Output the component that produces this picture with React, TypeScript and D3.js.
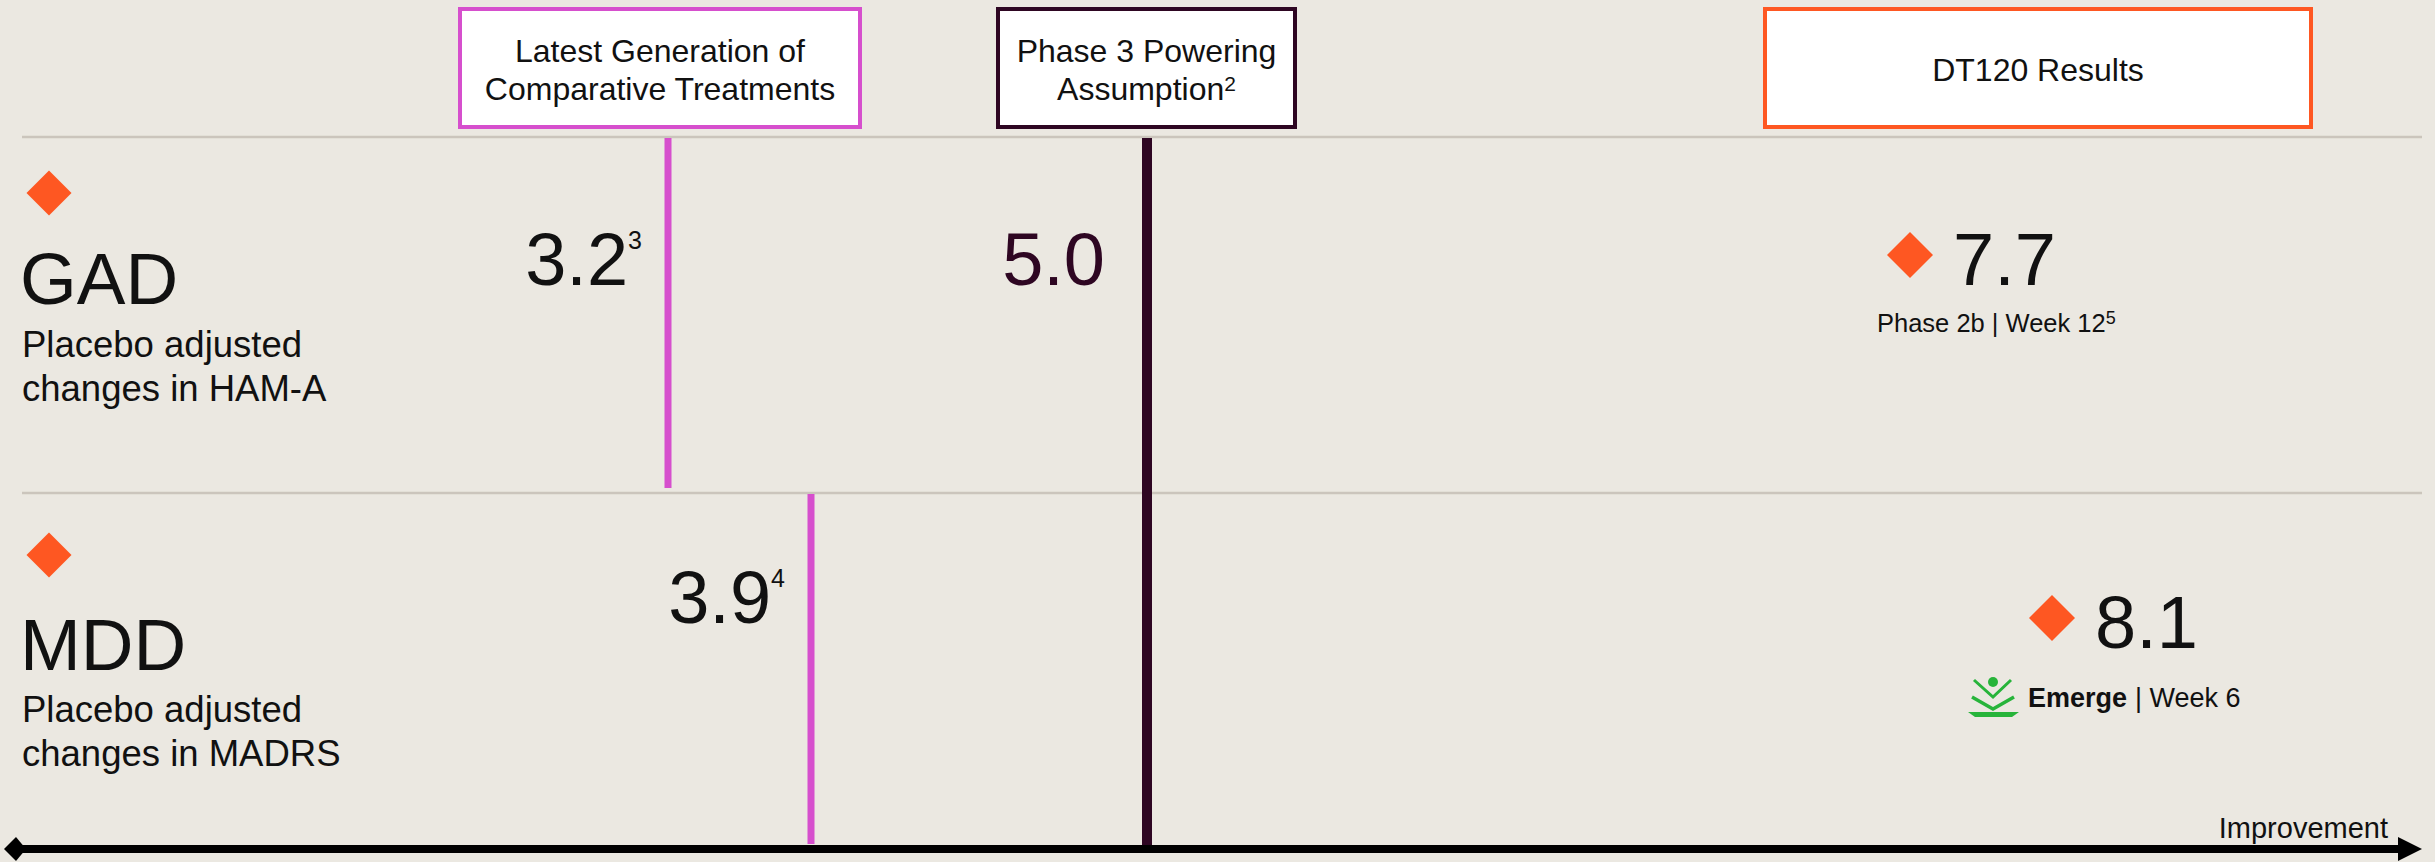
import React from "react";
import * as d3 from "d3";

// ---------- data ----------
const rows = ["GAD", "MDD"];
const rowSubtitles = [
  ["Placebo adjusted", "changes in HAM-A"],
  ["Placebo adjusted", "changes in MADRS"],
];
const comparatorValues = [3.2, 3.9];
const comparatorRefs = ["3", "4"];
const poweringValue = 5.0;
const poweringRef = "2";
const dt120Values = [7.7, 8.1];
const dt120Notes = ["Phase 2b | Week 12", "| Week 6"];
const dt120NoteRefs = ["5", ""];
const headerLines = [
  ["Latest Generation of", "Comparative Treatments"],
  ["Phase 3 Powering", "Assumption"],
  ["DT120 Results"],
];
const axisLabel = "Improvement";

// ---------- style ----------
const W = 2435;
const H = 862;
const BG = "#ebe8e1";
const PINK = "#d64fcd";
const DARK = "#2e0622";
const ORANGE = "#fe5722";
const SEP = "#cbc5bc";
const GREEN = "#27b43a";
const INK = "#111111";
const FONT = "'Liberation Sans', Arial, Helvetica, sans-serif";

// non-linear value axis of the original slide (piecewise linear)
const x = d3
  .scaleLinear()
  .domain([3.2, 3.9, 5.0, 7.7, 8.1])
  .range([668, 811, 1147, 1910, 2052]);

const y = d3.scaleBand<string>().domain(rows).range([137, 849]).paddingInner(0);

// per-row vertical offsets inside each band
const OFF = {
  diamond: [56, 62],
  title: [167, 177],
  sub1: [220, 229],
  sub2: [264, 273],
  value: [148, 130],
  resDiamond: [118, 125],
  resValue: [148, 155],
  resNote: [195, 214],
};

const diamondPath = (cx: number, cy: number, r: number) =>
  `M${cx},${cy - r}L${cx + r},${cy}L${cx},${cy + r}L${cx - r},${cy}Z`;

function Header({ x0, x1, color, lines, sup }: any) {
  const cx = (x0 + x1) / 2;
  return (
    <g>
      <rect x={x0 + 2} y={9} width={x1 - x0 - 4} height={118} fill="#ffffff" stroke={color} strokeWidth={4} />
      {lines.length === 1 ? (
        <text x={cx} y={81} textAnchor="middle" fontSize={32} fill={INK}>
          {lines[0]}
        </text>
      ) : (
        lines.map((l: string, i: number) => (
          <text key={i} x={cx} y={62 + i * 38} textAnchor="middle" fontSize={32} fill={INK}>
            {l}
            {i === lines.length - 1 && sup ? (
              <tspan fontSize={21} dy={-9}>
                {sup}
              </tspan>
            ) : null}
          </text>
        ))
      )}
    </g>
  );
}

export default function App() {
  const bw = y.bandwidth();
  const axisY = 849;
  const left = 22;
  const right = 2422;

  return (
    <svg
      width={W}
      height={H}
      style={{ position: "absolute", left: 0, top: 0, display: "block" }}
      fontFamily={FONT}
    >
      <rect x={0} y={0} width={W} height={H} fill={BG} />

      {/* header boxes */}
      <Header x0={458} x1={862} color={PINK} lines={headerLines[0]} />
      <Header x0={996} x1={1297} color={DARK} lines={headerLines[1]} sup={poweringRef} />
      <Header x0={1763} x1={2313} color={ORANGE} lines={headerLines[2]} />

      {/* row separators */}
      {rows.map((r) => (
        <line key={r} x1={left} x2={right} y1={y(r)!} y2={y(r)!} stroke={SEP} strokeWidth={2.5} />
      ))}

      {/* row labels */}
      {rows.map((r, i) => {
        const t = y(r)!;
        return (
          <g key={r}>
            <path d={diamondPath(49, t + OFF.diamond[i], 22.5)} fill={ORANGE} />
            <text x={left - 2} y={t + OFF.title[i]} fontSize={73} fill={INK}>
              {r}
            </text>
            <text x={left} y={t + OFF.sub1[i]} fontSize={36.5} fill={INK}>
              {rowSubtitles[i][0]}
            </text>
            <text x={left} y={t + OFF.sub2[i]} fontSize={36.5} fill={INK}>
              {rowSubtitles[i][1]}
            </text>
          </g>
        );
      })}

      {/* comparator lines */}
      {rows.map((r, i) => {
        const t = y(r)!;
        const xv = x(comparatorValues[i]);
        return (
          <g key={r}>
            <line x1={xv} x2={xv} y1={t + 1} y2={t + bw - 5} stroke={PINK} strokeWidth={7} />
            <text x={xv - 26} y={t + OFF.value[i]} textAnchor="end" fontSize={74} fill={INK}>
              {comparatorValues[i].toFixed(1)}
              <tspan fontSize={25} dy={-36}>
                {comparatorRefs[i]}
              </tspan>
            </text>
          </g>
        );
      })}

      {/* powering assumption line */}
      <line
        x1={x(poweringValue)}
        x2={x(poweringValue)}
        y1={y(rows[0])! + 1}
        y2={axisY}
        stroke={DARK}
        strokeWidth={10}
      />
      <text
        x={x(poweringValue) - 42}
        y={y(rows[0])! + OFF.value[0]}
        textAnchor="end"
        fontSize={74}
        fill={DARK}
      >
        {poweringValue.toFixed(1)}
      </text>

      {/* DT120 results */}
      {rows.map((r, i) => {
        const t = y(r)!;
        const xv = x(dt120Values[i]);
        return (
          <g key={r}>
            <path d={diamondPath(xv, t + OFF.resDiamond[i], 23)} fill={ORANGE} />
            <text x={xv + 43} y={t + OFF.resValue[i]} fontSize={74} fill={INK}>
              {dt120Values[i].toFixed(1)}
            </text>
          </g>
        );
      })}
      {/* GAD note */}
      <text x={x(dt120Values[0]) - 33} y={y(rows[0])! + OFF.resNote[0]} fontSize={25.5} fill={INK}>
        {dt120Notes[0]}
        <tspan fontSize={18} dy={-8}>
          {dt120NoteRefs[0]}
        </tspan>
      </text>
      {/* MDD note with Emerge logo */}
      {(() => {
        const bx = x(dt120Values[1]) - 84;
        const by = y(rows[1])! + OFF.resNote[1];
        return (
          <g>
            <g fill="none" stroke={GREEN} strokeLinejoin="miter">
              <path d={`M${bx + 6},${by - 27}L${bx + 25},${by - 10}L${bx + 43},${by - 27}`} strokeWidth={3} />
              <path d={`M${bx + 4},${by - 10}L${bx + 25},${by + 2}L${bx + 46},${by - 10}`} strokeWidth={3.5} />
            </g>
            <circle cx={bx + 25} cy={by - 25} r={5} fill={GREEN} />
            <path
              d={`M${bx},${by + 5}L${bx + 51},${by + 5}L${bx + 44},${by + 10}L${bx + 7},${by + 10}Z`}
              fill={GREEN}
            />
            <text x={bx + 60} y={by} fontSize={27} fill={INK}>
              <tspan fontWeight={700}>Emerge</tspan>
              <tspan dx={8}>{dt120Notes[1]}</tspan>
            </text>
          </g>
        );
      })()}

      {/* improvement axis */}
      <line x1={12} x2={right - 18} y1={axisY} y2={axisY} stroke="#000" strokeWidth={8} />
      <path d={`M${right},${axisY}L${right - 24},${axisY - 12}L${right - 24},${axisY + 12}Z`} fill="#000" />
      <path d={`M4,${axisY}L16,${axisY - 12}L26,${axisY}L16,${axisY + 12}Z`} fill="#000" />
      <text x={2388} y={838} textAnchor="end" fontSize={29} fill={INK}>
        {axisLabel}
      </text>
    </svg>
  );
}
